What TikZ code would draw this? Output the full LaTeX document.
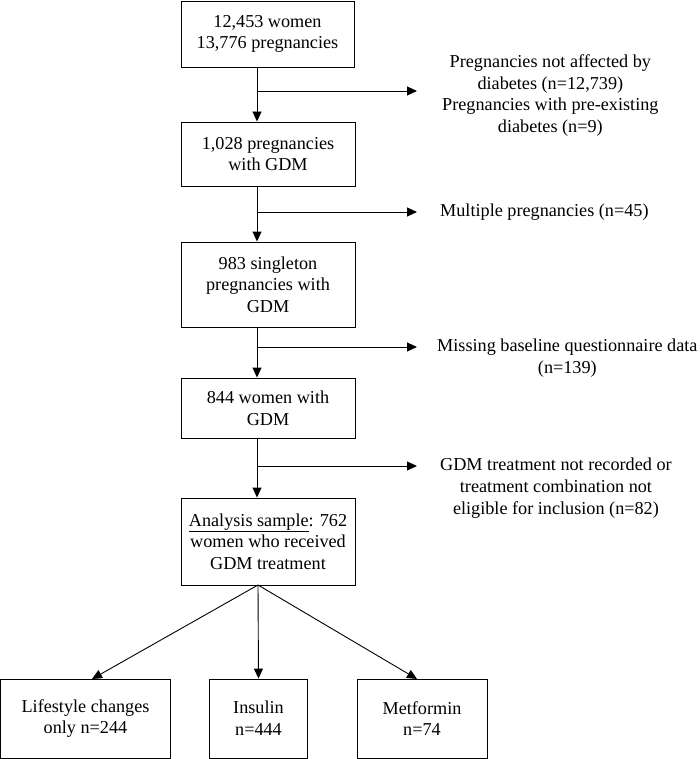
\documentclass[tikz,border=0pt]{standalone}
\usepackage{fontspec}
\setmainfont{Liberation Serif}
\usetikzlibrary{arrows.meta}
\begin{document}
\begin{tikzpicture}[x=1pt,y=-1pt,
  box/.style={draw,line width=0.9pt,align=center,inner sep=0pt,font=\fontsize{18.2}{21.7}\selectfont},
  side/.style={align=center,anchor=west,inner sep=0pt,font=\fontsize{18.2}{21.7}\selectfont},
  arr/.style={line width=0.9pt,-{Triangle[length=10pt,width=9pt]}}]
\useasboundingbox (0,0) rectangle (700,759);
\node[box,minimum width=173pt,minimum height=66pt] (b1) at (267.5,34) {12,453 women\\13,776 pregnancies};
\node[box,minimum width=174pt,minimum height=64pt] (b2) at (268,154) {1,028 pregnancies\\with GDM};
\node[box,minimum width=174pt,minimum height=85pt] (b3) at (268,284.5) {983 singleton\\pregnancies with\\GDM};
\node[box,minimum width=174pt,minimum height=60pt] (b4) at (268,408) {844 women with\\GDM};
\node[box,minimum width=174pt,minimum height=87pt] (b5) at (268,541.5) {\underline{Analysis sample}: 762\\women who received\\GDM treatment};
\node[box,minimum width=170pt,minimum height=79pt] (l) at (85.5,718.5) {Lifestyle changes\\only n=244};
\node[box,minimum width=98pt,minimum height=79pt] (i) at (258.5,718.5) {Insulin\\n=444};
\node[box,minimum width=130pt,minimum height=79pt] (m) at (422,718.5) {Metformin\\n=74};

\node[side] (t1) at (442,95.5) {Pregnancies not affected by\\diabetes (n=12,739)\\Pregnancies with pre-existing\\diabetes (n=9)};
\node[side] (t2) at (440,212) {Multiple pregnancies (n=45)};
\node[side] (t3) at (437,358) {Missing baseline questionnaire data\\(n=139)};
\node[side] (t4) at (440,488) {GDM treatment not recorded or\\treatment combination not\\eligible for inclusion (n=82)};

\coordinate (s1) at (257,91);
\coordinate (e1) at (417,91);
\coordinate (s2) at (257,212);
\coordinate (e2) at (417,212);
\coordinate (s3) at (257,347);
\coordinate (e3) at (417,347);
\coordinate (s4) at (257,466);
\coordinate (e4) at (417,466);

\draw[arr] (b1.south -| s1) -- (b2.north -| s1);
\draw[arr] (b2.south -| s2) -- (b3.north -| s2);
\draw[arr] (b3.south -| s3) -- (b4.north -| s3);
\draw[arr] (b4.south -| s4) -- (b5.north -| s4);
\draw[arr] (s1) -- (e1);
\draw[arr] (s2) -- (e2);
\draw[arr] (s3) -- (e3);
\draw[arr] (s4) -- (e4);
\coordinate (bb) at (258,585);
\draw[arr] (bb) -- (92,679);
\draw[arr] (bb) -- (i.north);
\draw[arr] (bb) -- (417,679);
\end{tikzpicture}
\end{document}
